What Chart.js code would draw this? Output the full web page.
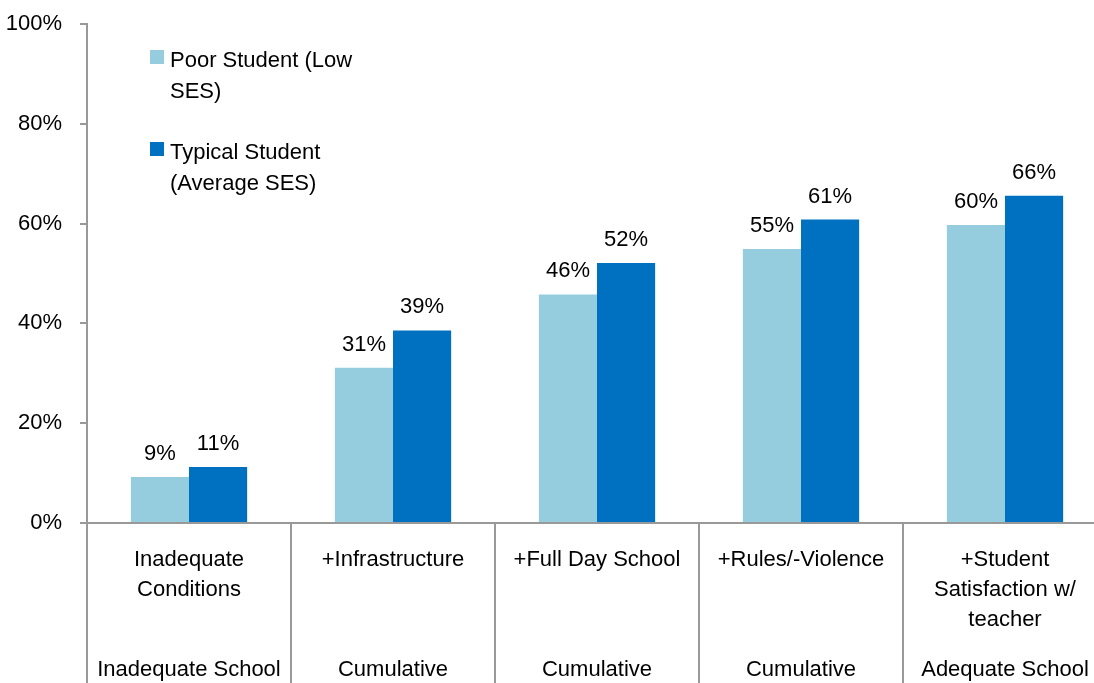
<!DOCTYPE html>
<html>
<head>
<meta charset="utf-8">
<script src="https://cdn.jsdelivr.net/npm/chart.js@4.4.0/dist/chart.umd.min.js"></script>
<style>
  html, body { margin: 0; padding: 0; background: #fff; overflow: hidden; }
  #wrap { width: 1110px; height: 683px; }
</style>
</head>
<body>
<div id="wrap"><canvas id="chart" width="1110" height="683"></canvas></div>
<script>
// categories (first level, split into lines) and their group row underneath
const categories = [
  ["Inadequate", "Conditions"],
  ["+Infrastructure"],
  ["+Full Day School"],
  ["+Rules/-Violence"],
  ["+Student", "Satisfaction w/", "teacher"]
];
const groups = ["Inadequate School", "Cumulative", "Cumulative", "Cumulative", "Adequate School"];

const seriesNames = ["Poor Student (Low SES)", "Typical Student (Average SES)"];
const legendLines = [["Poor Student (Low", "SES)"], ["Typical Student", "(Average SES)"]];

const poorStudent = [9.2, 31.1, 45.8, 54.9, 59.7];
const typicalStudent = [11.2, 38.6, 52.1, 60.8, 65.6];

const yTicks = [0, 20, 40, 60, 80, 100];

const LIGHT = "#96CDDE";
const DARK = "#0070C0";
const AXIS = "#999999";
const FONT_FAMILY = "'Liberation Sans', Arial, sans-serif";
const FONT = "22px " + FONT_FAMILY;

const decorations = {
  id: "decorations",
  afterDraw(chart) {
    const { ctx, chartArea, scales } = chart;
    const x = scales.x;
    const bottom = chartArea.bottom;
    const H = chart.height;
    const step = (chartArea.right - chartArea.left) / categories.length;

    ctx.save();
    ctx.strokeStyle = AXIS;
    ctx.lineWidth = 2;

    // horizontal axis
    ctx.beginPath();
    ctx.moveTo(chartArea.left - 7, bottom);
    ctx.lineTo(chartArea.right, bottom);
    ctx.stroke();

    // separators between categories, down to the bottom edge
    for (let i = 0; i <= categories.length; i++) {
      const px = Math.round(x.getPixelForValue(i) - step / 2);
      ctx.beginPath();
      ctx.moveTo(px, bottom);
      ctx.lineTo(px, H);
      ctx.stroke();
    }

    ctx.fillStyle = "#000";
    ctx.font = FONT;
    ctx.textAlign = "center";
    ctx.textBaseline = "alphabetic";

    categories.forEach((lines, i) => {
      const cx = x.getPixelForValue(i);
      lines.forEach((line, j) => {
        ctx.fillText(line, cx, bottom + 43 + j * 30);
      });
      ctx.fillText(groups[i], cx, bottom + 153);
    });

    // value labels above bars
    chart.data.datasets.forEach((ds, di) => {
      const meta = chart.getDatasetMeta(di);
      meta.data.forEach((bar, i) => {
        ctx.fillText(Math.round(ds.data[i]) + "%", bar.x, bar.y - 17);
      });
    });

    // legend
    ctx.textAlign = "left";
    const colors = [LIGHT, DARK];
    const legendTop = [50, 142];
    legendLines.forEach((lines, i) => {
      ctx.fillStyle = colors[i];
      ctx.fillRect(150, legendTop[i], 14, 14);
      ctx.fillStyle = "#000";
      lines.forEach((line, j) => {
        ctx.fillText(line, 170, legendTop[i] + 17 + j * 31);
      });
    });

    ctx.restore();
  }
};

new Chart(document.getElementById("chart"), {
  type: "bar",
  data: {
    labels: categories,
    datasets: [
      { label: seriesNames[0], data: poorStudent, backgroundColor: LIGHT },
      { label: seriesNames[1], data: typicalStudent, backgroundColor: DARK }
    ]
  },
  options: {
    responsive: false,
    animation: false,
    events: [],
    layout: { padding: { top: 24, right: 3, bottom: 160, left: 0 } },
    datasets: { bar: { categoryPercentage: 0.57, barPercentage: 1.0 } },
    plugins: { legend: { display: false }, tooltip: { enabled: false } },
    scales: {
      x: { display: false },
      y: {
        min: 0,
        max: 100,
        afterFit(scale) {
          scale.width = 87;
          scale.paddingTop = 0;
          scale.paddingBottom = 0;
        },
        afterBuildTicks(scale) { scale.ticks = yTicks.map(v => ({ value: v })); },
        border: { color: AXIS, width: 2 },
        grid: { drawOnChartArea: false, tickLength: 7, color: AXIS, lineWidth: 2 },
        ticks: {
          color: "#000",
          padding: 18,
          font: { family: FONT_FAMILY, size: 22 },
          callback: v => v + "%"
        }
      }
    }
  },
  plugins: [decorations]
});
</script>
</body>
</html>
